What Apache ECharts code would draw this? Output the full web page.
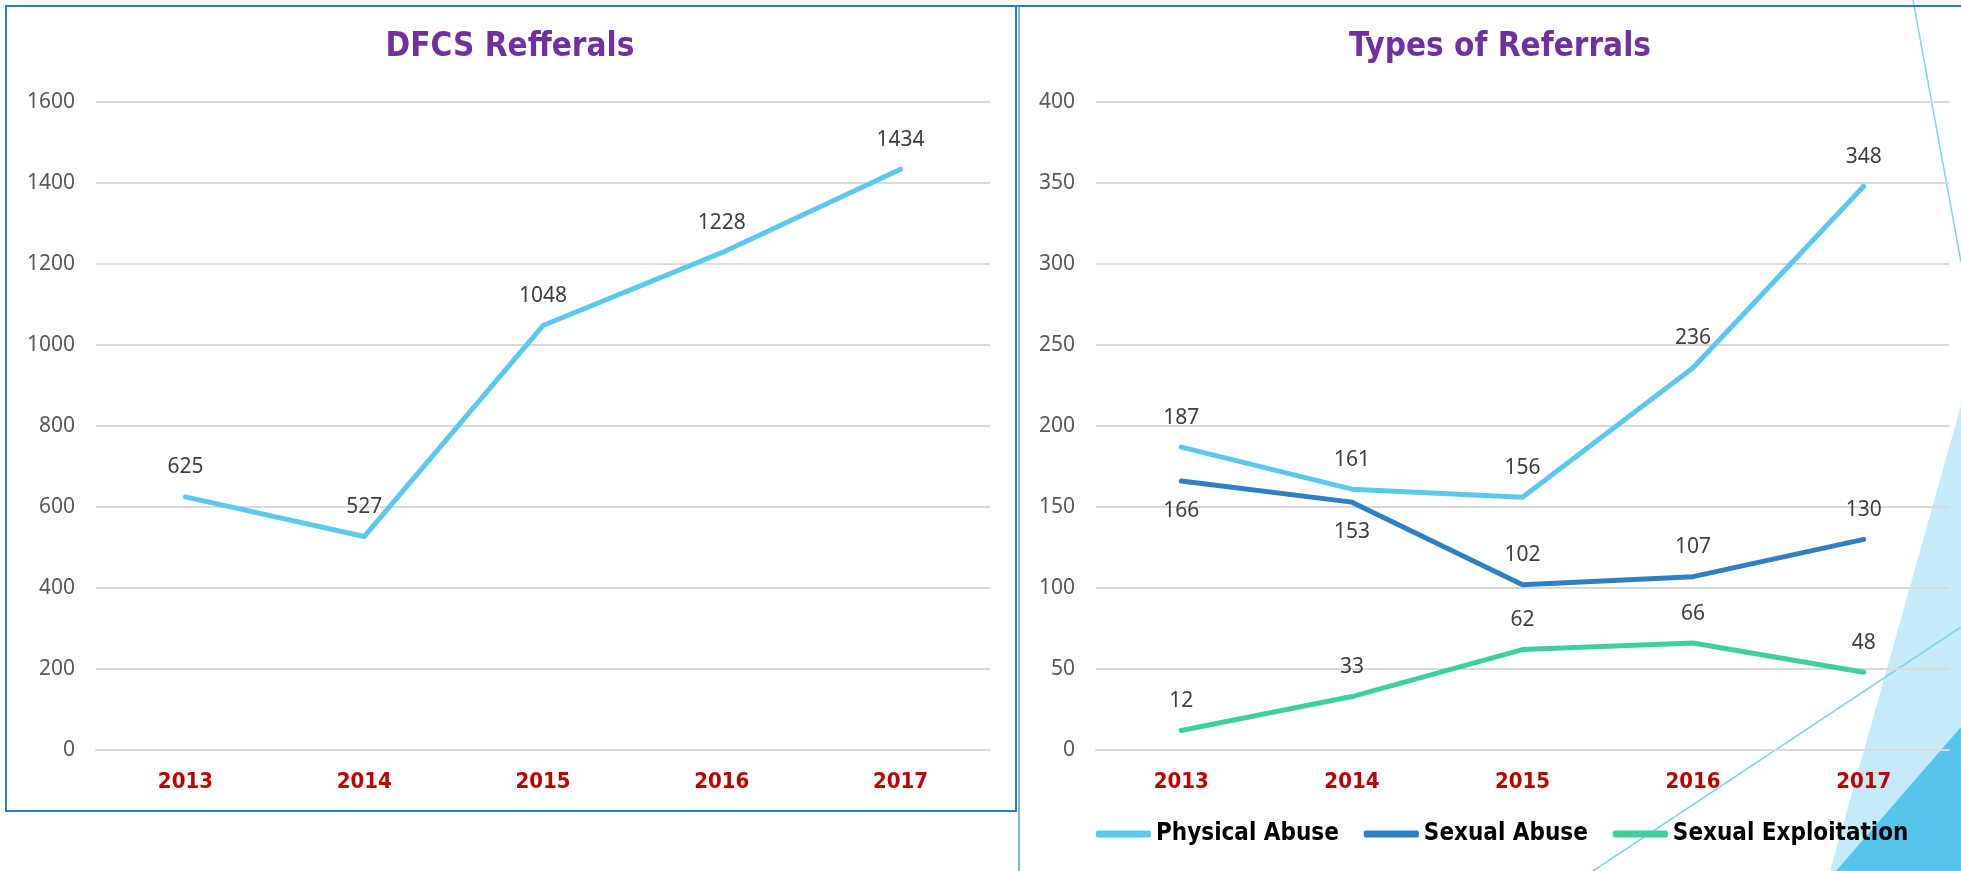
<!DOCTYPE html>
<html>
<head>
<meta charset="utf-8">
<script src="https://cdn.jsdelivr.net/npm/echarts@6/dist/echarts.min.js"></script>
<style>
  html, body { margin: 0; padding: 0; background: #fff; }
  #main { width: 1961px; height: 871px; }
</style>
</head>
<body>
<div id="main"></div>
<script>
// data
var years = ['2013', '2014', '2015', '2016', '2017'];
var dfcsReferrals = [625, 527, 1048, 1228, 1434];
var physicalAbuse = [187, 161, 156, 236, 348];
var sexualAbuse = [166, 153, 102, 107, 130];
var sexualExploitation = [12, 33, 62, 66, 48];
var sexualAbuseLabelPos = ['bottom', 'bottom', 'top', 'top', 'top'];
var leftTicks = { min: 0, max: 1600, interval: 200 };
var rightTicks = { min: 0, max: 400, interval: 50 };

var numFont = 'Noto Sans';
var boldFont = 'DejaVu Sans Condensed';

var myChart = echarts.init(document.getElementById('main'));

function yAxisFor(idx, ticks) {
    return {
        type: 'value',
        gridIndex: idx,
        min: ticks.min,
        max: ticks.max,
        interval: ticks.interval,
        axisLine: { show: false },
        axisTick: { show: false },
        axisLabel: {
            color: '#595959', fontFamily: numFont, fontSize: 21, margin: 21,
            formatter: function (v) { return String(v); }
        },
        splitLine: { lineStyle: { color: '#D9D9D9', width: 2 } }
    };
}

function xAxisFor(idx) {
    return {
        type: 'category',
        gridIndex: idx,
        data: years,
        axisLine: { lineStyle: { color: '#D9D9D9', width: 2 } },
        axisTick: { show: false },
        axisLabel: { color: '#C00000', fontFamily: boldFont, fontWeight: 'bold', fontSize: 22, margin: 21 }
    };
}

function lineSeries(name, xi, data, color, labelPos) {
    return {
        name: name,
        type: 'line',
        xAxisIndex: xi,
        yAxisIndex: xi,
        symbol: 'circle',
        symbolSize: 2,
        itemStyle: { color: color },
        lineStyle: { color: color, width: 5, cap: 'round', join: 'round' },
        data: data.map(function (v, i) {
            return labelPos ? { value: v, label: { position: labelPos[i] } } : v;
        }),
        label: {
            show: true,
            position: 'top',
            distance: 18,
            color: '#404040',
            fontFamily: numFont,
            fontSize: 21
        },
        z: 5
    };
}

myChart.setOption({
    animation: false,
    title: [{
        text: 'DFCS Refferals',
        left: 510,
        top: 31,
        textAlign: 'center',
        padding: 0,
        textStyle: { color: '#7030A0', fontFamily: boldFont, fontWeight: 'bold', fontSize: 33 }
    }, {
        text: 'Types of Referrals',
        left: 1500,
        top: 31,
        textAlign: 'center',
        padding: 0,
        textStyle: { color: '#7030A0', fontFamily: boldFont, fontWeight: 'bold', fontSize: 33 }
    }],
    legend: {
        data: ['Physical Abuse', 'Sexual Abuse', 'Sexual Exploitation'],
        left: 1091,
        top: 817,
        icon: 'roundRect',
        itemWidth: 55,
        itemHeight: 7,
        itemGap: 25,
        textStyle: { color: '#000', fontFamily: boldFont, fontWeight: 'bold', fontSize: 24 }
    },
    grid: [
        { left: 96, right: 971, top: 102, bottom: 121 },
        { left: 1096, right: 12, top: 102, bottom: 121 }
    ],
    xAxis: [xAxisFor(0), xAxisFor(1)],
    yAxis: [yAxisFor(0, leftTicks), yAxisFor(1, rightTicks)],
    series: [
        lineSeries('DFCS Referrals', 0, dfcsReferrals, '#5BC8EE'),
        lineSeries('Physical Abuse', 1, physicalAbuse, '#5BC8EE'),
        lineSeries('Sexual Abuse', 1, sexualAbuse, '#2E7FC4', sexualAbuseLabelPos),
        lineSeries('Sexual Exploitation', 1, sexualExploitation, '#3ECF9B')
    ],
    graphic: [
        // slide decorations behind the right chart
        { type: 'polygon', z: -10, shape: { points: [[1830, 871], [1961, 405], [1961, 871]] }, style: { fill: '#C6EBF8' } },
        { type: 'polygon', z: -9, shape: { points: [[1836, 871], [1961, 727], [1961, 871]] }, style: { fill: '#56C5EC' } },
        { type: 'line', z: -8, shape: { x1: 1913, y1: 0, x2: 1961, y2: 262 }, style: { stroke: '#7FD3F2', lineWidth: 1.5 } },
        { type: 'line', z: -8, shape: { x1: 1593, y1: 871, x2: 1961, y2: 627 }, style: { stroke: '#7FD3F2', lineWidth: 1.5 } },
        // panel borders
        { type: 'rect', z: -5, shape: { x: 6, y: 6, width: 1010, height: 805 }, style: { fill: 'none', stroke: '#2E7BC6', lineWidth: 2 } },
        { type: 'line', z: -5, shape: { x1: 1016, y1: 6, x2: 1961, y2: 6 }, style: { stroke: '#2E7BC6', lineWidth: 2 } },
        { type: 'line', z: -5, shape: { x1: 1019, y1: 6, x2: 1019, y2: 871 }, style: { stroke: '#5B9BD5', lineWidth: 1.5 } }
    ]
});
</script>
</body>
</html>
